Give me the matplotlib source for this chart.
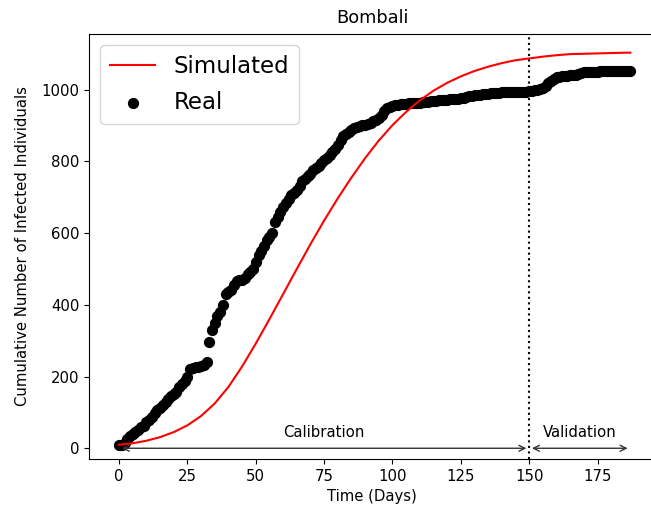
import matplotlib
matplotlib.use("Agg")
import matplotlib.pyplot as plt
import numpy as np

plt.rcParams['font.size'] = 10.7

# Reale Fallzahlen (kumulativ), ein Wert pro Tag
real_days = np.arange(0, 188)
real_cases = [
    8, 10, 15, 25, 33, 40, 45, 52, 58, 63,
    72, 80, 88, 98, 106, 112, 120, 128, 138, 146,
    150, 158, 170, 178, 188, 200, 220, 225, 226, 227,
    228, 232, 240, 296, 330, 350, 370, 380, 400, 430,
    436, 440, 455, 465, 468, 470, 475, 485, 492, 500,
    520, 540, 550, 565, 580, 590, 600, 632, 645, 660,
    672, 685, 695, 705, 712, 720, 732, 745, 752, 760,
    765, 775, 782, 788, 795, 803, 810, 817, 825, 835,
    845, 860, 870, 876, 883, 888, 892, 895, 898, 900,
    902, 905, 908, 912, 916, 922, 930, 940, 948, 952,
    955, 957, 958, 960, 960, 961, 962, 962, 963, 964,
    964, 965, 966, 966, 967, 968, 969, 970, 970, 971,
    972, 973, 974, 975, 975, 976, 978, 980, 982, 983,
    984, 985, 986, 987, 988, 989, 990, 990, 991, 991,
    992, 992, 992, 993, 993, 993, 993, 994, 994, 994,
    995, 996, 998, 1000, 1002, 1005, 1010, 1018, 1025, 1030,
    1035, 1036, 1037, 1038, 1039, 1040, 1041, 1042, 1044, 1046,
    1048, 1049, 1050, 1050, 1050, 1050, 1051, 1051, 1051, 1051,
    1051, 1052, 1052, 1052, 1052, 1052, 1052, 1052,
]

# Simulierte Kurve
sim_days = [0, 5, 10, 15, 20, 25, 30, 35, 40, 45, 50, 55, 60, 65, 70, 75,
            80, 85, 90, 95, 100, 105, 110, 115, 120, 125, 130, 135, 140,
            145, 150, 155, 160, 165, 170, 175, 180, 185, 187]
sim_cases = [10, 14, 21, 31, 45, 64, 90, 125, 171, 228, 292, 360, 430, 500,
             569, 635, 697, 755, 809, 858, 901, 938, 970, 997, 1019, 1037,
             1052, 1064, 1074, 1082, 1087, 1092, 1096, 1099, 1100, 1101,
             1102, 1103, 1103]

split_day = 150
end_day = 187

fig = plt.figure(figsize=(6.51, 5.15), dpi=100)
ax = fig.add_axes([0.1367, 0.1087, 0.8694, 0.8252])

ax.plot(sim_days, sim_cases, color='red', label='Simulated')
ax.scatter(real_days, real_cases, color='black', s=50, label='Real')

ax.axvline(split_day, color='black', linestyle=':')

# Pfeile für Kalibrierung und Validierung
ax.annotate('', xy=(0, 0), xytext=(split_day, 0),
            arrowprops=dict(arrowstyle='<->', color='#333333'))
ax.annotate('', xy=(split_day, 0), xytext=(end_day, 0),
            arrowprops=dict(arrowstyle='<->', color='#333333'))
ax.text(split_day / 2, 22, 'Calibration', ha='center', va='bottom')
ax.text((split_day + end_day) / 2, 22, 'Validation', ha='center', va='bottom')

ax.set_xlim(-11, 196)
ax.set_ylim(-30, 1155)
ax.set_xticks([0, 25, 50, 75, 100, 125, 150, 175])

ax.set_title('Bombali', fontsize=12.8, pad=8)
ax.set_xlabel('Time (Days)')
ax.set_ylabel('Cumulative Number of Infected Individuals', labelpad=8)
ax.legend(loc='upper left', fontsize=16.5, labelspacing=0.6)

fig.savefig('out.png', dpi=100)
